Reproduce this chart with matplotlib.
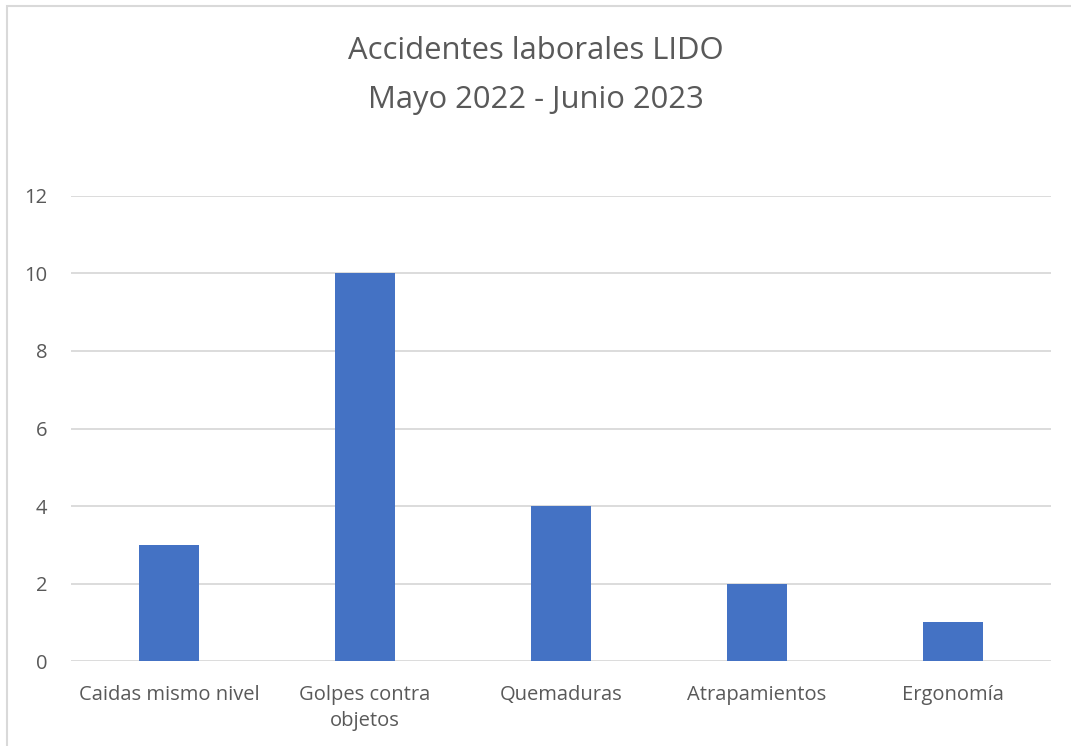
import matplotlib.pyplot as plt
from matplotlib.patches import Rectangle

categorias = ["Caidas mismo nivel", "Golpes contra\nobjetos", "Quemaduras",
              "Atrapamientos", "Ergonomía"]
accidentes = [3, 10, 4, 2, 1]
y_ticks = [0, 2, 4, 6, 8, 10, 12]

plt.rcParams['font.family'] = ['Open Sans', 'DejaVu Sans']

fig = plt.figure(figsize=(10.71, 7.46), dpi=100)
ax = fig.add_axes([0.0663, 0.1139, 0.9150, 0.6234])

x = range(len(categorias))
ax.bar(x, accidentes, width=0.31, color='#4472c4', zorder=3)

ax.set_xlim(-0.5, len(categorias) - 0.5)
ax.set_ylim(0, 12)
ax.set_yticks(y_ticks)
ax.set_xticks(list(x))
ax.set_xticklabels(categorias, linespacing=1.45)
ax.yaxis.grid(True, color='#d9d9d9', linewidth=1.3, zorder=0)
for s in ax.spines.values():
    s.set_visible(False)
ax.tick_params(axis='both', length=0, labelsize=14.5, colors='#595959')
ax.tick_params(axis='x', pad=17)
ax.tick_params(axis='y', pad=17)

fig.text(0.5, 0.899, "Accidentes laborales LIDO\nMayo 2022 - Junio 2023",
         ha='center', va='center', fontsize=22.3, color='#595959', linespacing=1.8)

# chart border
fig.patches.append(Rectangle((7 / 1071, -0.1), 1.2, 1.1 - 6 / 746, transform=fig.transFigure,
                             fill=False, edgecolor='#d9d9d9', linewidth=1.5))

fig.savefig('out.png', dpi=100)
